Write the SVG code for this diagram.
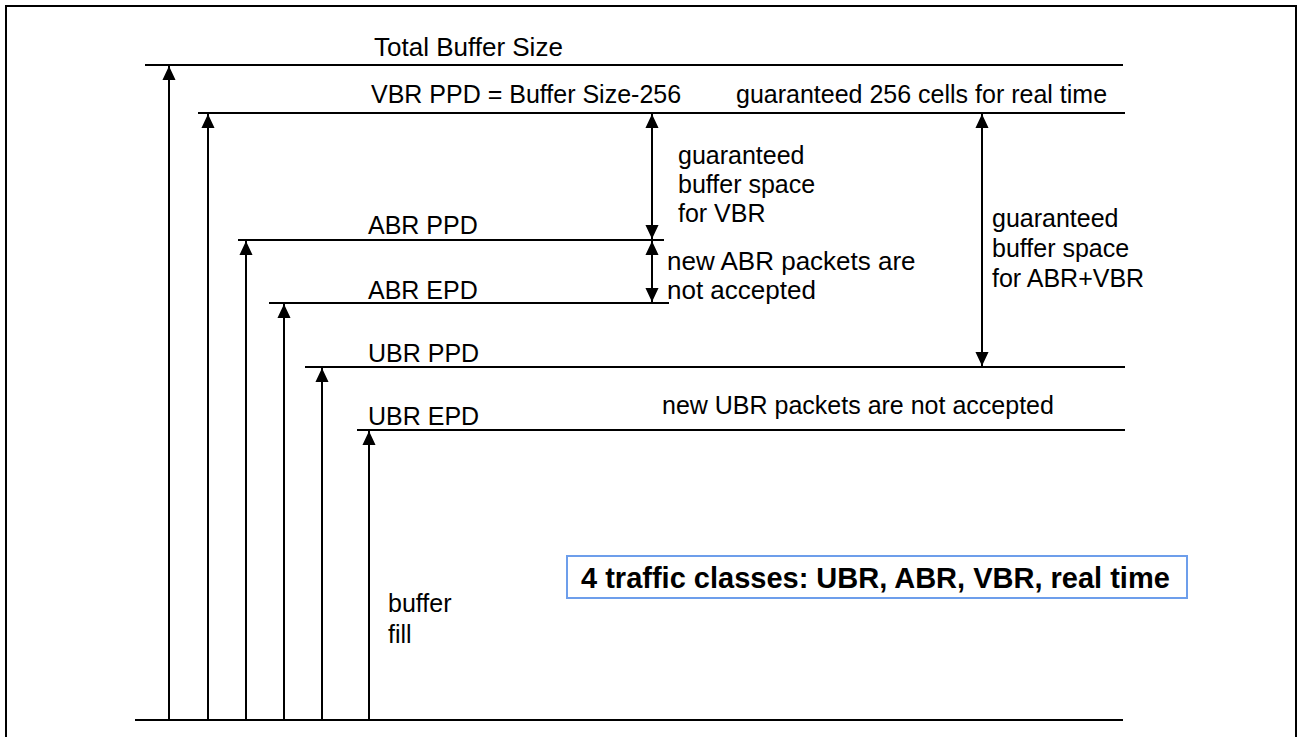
<svg xmlns="http://www.w3.org/2000/svg" width="1297" height="737" viewBox="0 0 1297 737">
<style>
.t{font-family:"Liberation Sans",Arial,sans-serif;font-size:25px;fill:#000}
.l{font-size:26px}
.b{font-family:"Liberation Sans",Arial,sans-serif;font-size:29px;font-weight:bold;fill:#000}
.ln{stroke:#000;stroke-width:2;fill:none}
.ar{stroke:#000;stroke-width:2;fill:none;marker-end:url(#ah)}
.da{stroke:#000;stroke-width:2;fill:none;marker-start:url(#ah);marker-end:url(#ah)}
</style>
<defs>
<marker id="ah" markerUnits="userSpaceOnUse" markerWidth="14" markerHeight="15" viewBox="0 0 15 14" refX="15" refY="7" orient="auto-start-reverse">
<path d="M0,0 L15,7 L0,14 Z" fill="#000"/>
</marker>
</defs>
<rect x="6" y="6" width="1290" height="740" fill="#fff" stroke="#000" stroke-width="2"/>
<g id="levels">
<g id="total"><line class="ln" x1="145" y1="65" x2="1123" y2="65"/><text class="t l" x="374" y="56">Total Buffer Size</text></g>
<g id="vbr-ppd"><line class="ln" x1="198" y1="113" x2="1125" y2="113"/><text class="t" x="371" y="103">VBR PPD = Buffer Size-256</text><text class="t" x="736" y="103">guaranteed 256 cells for real time</text></g>
<g id="abr-ppd"><line class="ln" x1="238" y1="240" x2="664" y2="240"/><text class="t" x="368" y="234">ABR PPD</text></g>
<g id="abr-epd"><line class="ln" x1="269" y1="303" x2="669" y2="303"/><text class="t" x="368" y="299">ABR EPD</text></g>
<g id="ubr-ppd"><line class="ln" x1="305" y1="367" x2="1125" y2="367"/><text class="t" x="368" y="362">UBR PPD</text></g>
<g id="ubr-epd"><line class="ln" x1="357" y1="430" x2="1125" y2="430"/><text class="t" x="368" y="425">UBR EPD</text></g>
<g id="base"><line class="ln" x1="135" y1="720" x2="1123" y2="720"/></g>
</g>
<g id="labels">
<g id="vbr-space"><text class="t" x="678" y="164">guaranteed</text><text class="t" x="678" y="193">buffer space</text><text class="t" x="678" y="222">for VBR</text></g>
<g id="abr-reject"><text class="t l" x="667" y="270">new ABR packets are</text><text class="t l" x="667" y="299">not accepted</text></g>
<g id="abrvbr-space"><text class="t" x="992" y="227">guaranteed</text><text class="t" x="992" y="257">buffer space</text><text class="t" x="992" y="287">for ABR+VBR</text></g>
<g id="ubr-reject"><text class="t" x="662" y="414">new UBR packets are not accepted</text></g>
<g id="fill-label"><text class="t" x="388" y="612">buffer</text><text class="t" x="388" y="643">fill</text></g>
<g id="classes"><rect x="567" y="556" width="620" height="42" fill="#fff" stroke="#6d9eeb" stroke-width="2"/><text class="b" x="581" y="588">4 traffic classes: UBR, ABR, VBR, real time</text></g>
</g>
<g id="connectors">
<line class="ar" x1="169" y1="720" x2="169" y2="66"/>
<line class="ar" x1="208" y1="720" x2="208" y2="114"/>
<line class="ar" x1="246" y1="720" x2="246" y2="241"/>
<line class="ar" x1="284" y1="720" x2="284" y2="304"/>
<line class="ar" x1="322" y1="720" x2="322" y2="368"/>
<line class="ar" x1="369" y1="720" x2="369" y2="431"/>
<line class="da" x1="652" y1="114" x2="652" y2="239"/>
<line class="da" x1="652" y1="241" x2="652" y2="302"/>
<line class="da" x1="982" y1="114" x2="982" y2="366"/>
</g>
</svg>
